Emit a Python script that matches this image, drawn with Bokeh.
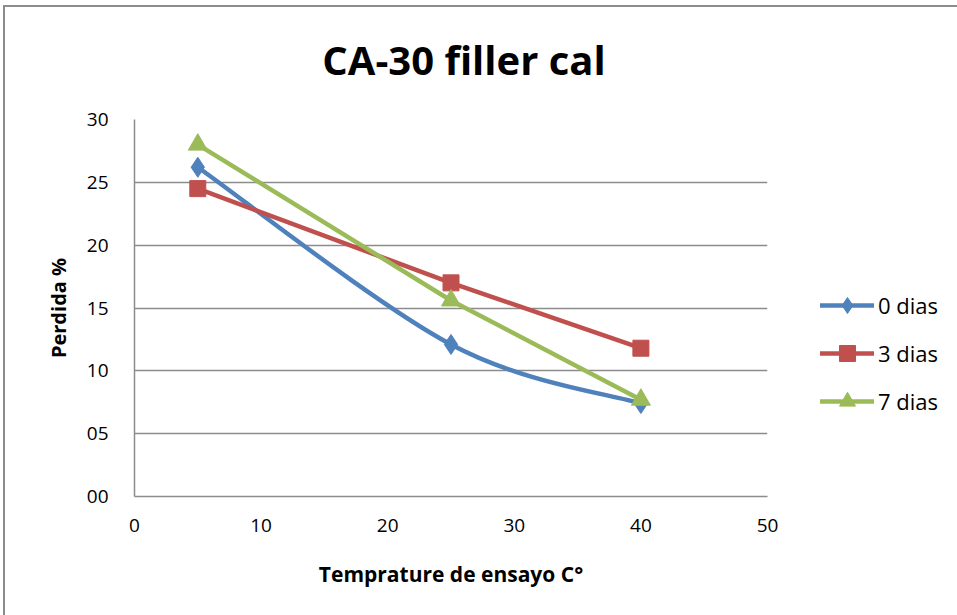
from bokeh.plotting import figure
from bokeh.models import Legend, LegendItem, FixedTicker, Range1d, Div
from bokeh.layouts import column
from bokeh.embed import file_html
from bokeh.resources import INLINE

# Test temperatures (°C) and loss percentages per curing time
temps = [5, 25, 40]
perdida_0 = [26.2, 12.1, 7.4]
perdida_3 = [24.5, 17.0, 11.8]
perdida_7 = [28.0, 15.6, 7.7]

series_names = ["0 dias", "3 dias", "7 dias"]
y_ticks = [0, 5, 10, 15, 20, 25, 30]
y_tick_labels = ["00", "05", "10", "15", "20", "25", "30"]
x_ticks = [0, 10, 20, 30, 40, 50]
chart_title = "CA-30 filler cal"

BLUE = "#4F81BD"
RED = "#C0504D"
GREEN = "#9BBB59"
GRID = "#8C8C8C"
FONT = "Open Sans"

# the chart sits inside a bordered box offset from the page corner
OFF_X, OFF_Y = 5, 7
FRAME_W, FRAME_H = 633, 377
TITLE_H = 80
LEFT, TOP = 134 - OFF_X, 119 - OFF_Y - TITLE_H
RIGHT = 957 - OFF_X - LEFT - FRAME_W
BOTTOM = 615 - OFF_Y - TOP - TITLE_H - FRAME_H

title = Div(text=chart_title, width=2 * (464 - OFF_X), height=TITLE_H,
            styles={"font-family": FONT, "font-size": "40px", "font-weight": "bold",
                    "color": "black", "text-align": "center",
                    "line-height": "40px", "padding-top": "33px",
                    "box-sizing": "border-box", "margin": "0"})

p = figure(frame_width=FRAME_W, frame_height=FRAME_H,
           output_backend="svg", toolbar_location=None,
           x_range=Range1d(0, 50), y_range=Range1d(0, 30),
           min_border_left=LEFT, min_border_right=RIGHT,
           min_border_top=TOP, min_border_bottom=BOTTOM)
p.outline_line_color = None
p.background_fill_color = "white"
p.border_fill_color = "white"

# axes
p.xaxis.ticker = FixedTicker(ticks=x_ticks)
p.yaxis.ticker = FixedTicker(ticks=y_ticks)
p.yaxis.major_label_overrides = {t: s for t, s in zip(y_ticks, y_tick_labels)}
for ax in (p.xaxis, p.yaxis):
    ax.axis_line_color = GRID
    ax.axis_line_width = 1.5
    ax.major_tick_line_color = None
    ax.minor_tick_line_color = None
    ax.major_tick_out = 0
    ax.major_tick_in = 0
    ax.major_label_text_font = FONT
    ax.major_label_text_font_size = "19px"
    ax.major_label_text_color = "black"
    ax.axis_label_text_font = FONT
    ax.axis_label_text_font_style = "bold"
    ax.axis_label_text_color = "black"
p.xaxis.axis_label_text_font_size = "21px"
p.yaxis.axis_label_text_font_size = "20px"
p.xaxis.major_label_standoff = 22
p.yaxis.major_label_standoff = 26
p.xaxis.axis_label = "Temprature de ensayo C°"
p.yaxis.axis_label = "Perdida %"
p.xaxis.axis_label_standoff = 25
p.yaxis.axis_label_standoff = 12

p.xgrid.grid_line_color = None
p.ygrid.grid_line_color = GRID
p.ygrid.grid_line_width = 1.5


def smooth_segments(xs, ys):
    """Cubic Bezier control points for a smoothed polyline (Catmull-Rom style)."""
    n = len(xs)
    px = [xs[0]] + list(xs) + [xs[-1]]
    py = [ys[0]] + list(ys) + [ys[-1]]
    out = dict(x0=[], y0=[], x1=[], y1=[], cx0=[], cy0=[], cx1=[], cy1=[])
    for i in range(n - 1):
        a, b, c, d = i, i + 1, i + 2, i + 3
        out["x0"].append(px[b]); out["y0"].append(py[b])
        out["x1"].append(px[c]); out["y1"].append(py[c])
        out["cx0"].append(px[b] + (px[c] - px[a]) / 6)
        out["cy0"].append(py[b] + (py[c] - py[a]) / 6)
        out["cx1"].append(px[c] - (px[d] - px[b]) / 6)
        out["cy1"].append(py[c] - (py[d] - py[b]) / 6)
    return out


LW = 4.5
# 0 dias: smoothed curve
seg = smooth_segments(temps, perdida_0)
p.bezier(line_color=BLUE, line_width=LW, line_cap="round", **seg)
# 3 dias and 7 dias: straight segments
r3_line = p.line(temps, perdida_3, line_color=RED, line_width=LW,
                 line_cap="round", line_join="round")
r7_line = p.line(temps, perdida_7, line_color=GREEN, line_width=LW,
                 line_cap="round", line_join="round")

r0_pts = p.scatter(temps, perdida_0, marker="diamond", size=20,
                   fill_color=BLUE, line_color=BLUE)
r3_pts = p.scatter(temps, perdida_3, marker="square", size=16,
                   fill_color=RED, line_color=RED)
r7_pts = p.scatter(temps, perdida_7, marker="triangle", size=19,
                   fill_color=GREEN, line_color=GREEN)

# legend glyph uses a plain line for the smoothed series
r0_leg = p.line([temps[0]], [perdida_0[0]], line_color=BLUE, line_width=LW,
                line_cap="round", visible=False)

legend = Legend(items=[
    LegendItem(label=series_names[0], renderers=[r0_leg, r0_pts]),
    LegendItem(label=series_names[1], renderers=[r3_line, r3_pts]),
    LegendItem(label=series_names[2], renderers=[r7_line, r7_pts]),
], location=(53, 75), orientation="vertical")
legend.border_line_color = None
legend.background_fill_alpha = 0
legend.padding = 0
legend.margin = 0
legend.spacing = 8
legend.glyph_width = 54
legend.glyph_height = 40
legend.label_height = 26
legend.label_standoff = 4
legend.label_text_font = FONT
legend.label_text_font_size = "22px"
legend.label_text_color = "black"
p.add_layout(legend, "right")

layout = column(title, p, spacing=0)
layout.styles = {"border-left": "2px solid #8C8C8C", "border-top": "2px solid #8C8C8C",
                 "margin-left": "3px", "margin-top": "5px", "background": "white"}

open("out.html", "w").write(file_html(layout, INLINE))
